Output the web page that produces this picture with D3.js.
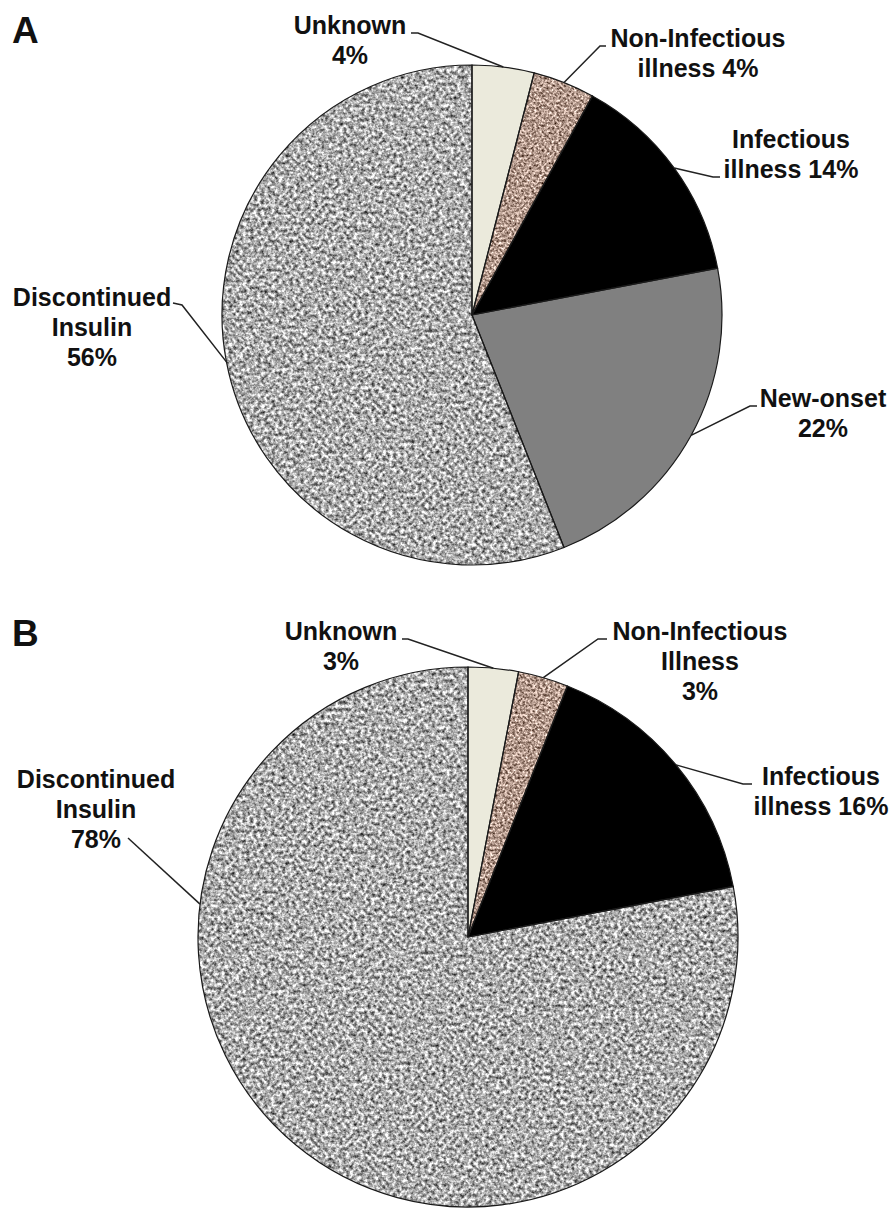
<!DOCTYPE html>
<html lang="en">
<head>
<meta charset="UTF-8">
<title>Precipitating factors</title>
<script src="https://d3js.org/d3.v7.min.js"></script>
<style>
body { margin: 0; background: #fff; }
#chart text { font-family: "Liberation Sans", Arial, sans-serif; font-weight: bold; fill: #111; }
</style>
</head>
<body>
<div id="chart"></div>
<script>
// panel A
var namesA = ["Unknown", "Non-Infectious illness", "Infectious illness", "New-onset", "Discontinued Insulin"];
var valuesA = [4, 4, 14, 22, 56];
// panel B
var namesB = ["Unknown", "Non-Infectious Illness", "Infectious illness", "Discontinued Insulin"];
var valuesB = [3, 3, 16, 78];

var width = 893, height = 1208;

var svg = d3.select("#chart").append("svg")
    .attr("width", width)
    .attr("height", height);

var defs = svg.append("defs");

// speckled textures (granite gray and brown)
function noise(id, freq, octaves, rows) {
    var f = defs.append("filter").attr("id", id)
        .attr("x", 0).attr("y", 0).attr("width", 1).attr("height", 1)
        .attr("color-interpolation-filters", "sRGB");
    f.append("feTurbulence").attr("type", "fractalNoise")
        .attr("baseFrequency", freq).attr("numOctaves", octaves).attr("seed", 7).attr("result", "n");
    f.append("feColorMatrix").attr("in", "n").attr("type", "matrix").attr("values", rows).attr("result", "c");
    f.append("feComposite").attr("in", "c").attr("in2", "SourceGraphic").attr("operator", "in");
}
noise("granite", 0.28, 3, "1.45 0 0 0 -0.05  1.45 0 0 0 -0.05  1.45 0 0 0 -0.05  0 0 0 0 1");
noise("brown", 0.4, 3, "1.3 0 0 0 0.05  1.3 0 0 0 -0.05  1.3 0 0 0 -0.1  0 0 0 0 1");

var fills = {
    "unknown": { color: "#ebeadc" },
    "non-infectious illness": { color: "#b09a8a", filter: "brown" },
    "infectious illness": { color: "#000" },
    "new-onset": { color: "#808080" },
    "discontinued insulin": { color: "#b5b5b5", filter: "granite" }
};

// label layout: text position, words per line, leader start / elbow
var layoutA = [
    { x: 350, y: 34, br: [1, 1], from: [411, 33], elbow: [418, 33] },
    { x: 698, y: 47, br: [1, 2], from: [606, 46], elbow: [600, 46] },
    { x: 791, y: 148, br: [1, 2], from: [720, 177], elbow: [713, 177] },
    { x: 823, y: 407, br: [1, 1], from: [757, 406], elbow: [750, 406] },
    { x: 92, y: 306, br: [1, 1, 1], from: [173, 303], elbow: [182, 305] }
];
var layoutB = [
    { x: 341, y: 640, br: [1, 1], from: [402, 639], elbow: [408, 639] },
    { x: 700, y: 640, br: [1, 1, 1], from: [607, 639], elbow: [598, 639] },
    { x: 821, y: 785, br: [1, 2], from: [752, 784], elbow: [743, 784] },
    { x: 96, y: 788, br: [1, 1, 1], from: [128, 838], elbow: [128, 838], angle: 277 }
];

function drawPie(names, values, layout, cx, cy, r, letter, ly) {
    var pie = d3.pie().sort(null).value(function(d) { return d; });
    var arcs = pie(values);
    var arc = d3.arc().innerRadius(0).outerRadius(r);
    var rim = d3.arc().innerRadius(r).outerRadius(r);

    var g = svg.append("g").attr("transform", "translate(" + cx + "," + cy + ")");

    g.selectAll(".slice")
        .data(arcs)
        .enter().append("path")
        .attr("class", "slice")
        .attr("d", arc)
        .attr("fill", function(d, i) { return fills[names[i].toLowerCase()].color; })
        .attr("filter", function(d, i) {
            var f = fills[names[i].toLowerCase()].filter;
            return f ? "url(#" + f + ")" : null;
        });

    g.selectAll(".edge")
        .data(arcs)
        .enter().append("path")
        .attr("class", "edge")
        .attr("d", arc)
        .attr("fill", "none")
        .attr("stroke", "#1a1a1a")
        .attr("stroke-width", 1.2);

    // leader lines
    arcs.forEach(function(d, i) {
        var L = layout[i];
        var end;
        if (L.angle != null) {
            var a = L.angle * Math.PI / 180;
            end = [Math.sin(a) * r, -Math.cos(a) * r];
        } else {
            end = rim.centroid(d);
        }
        var pts = [L.from, L.elbow, [end[0] + cx, end[1] + cy]];
        svg.append("path")
            .attr("d", d3.line()(pts))
            .attr("fill", "none")
            .attr("stroke", "#222")
            .attr("stroke-width", 1.5);

        // label text: name words + percent
        var words = names[i].split(" ").concat([values[i] + "%"]);
        var t = svg.append("text")
            .attr("text-anchor", "middle")
            .attr("font-size", 25);
        var k = 0;
        L.br.forEach(function(n, j) {
            t.append("tspan")
                .attr("x", L.x)
                .attr("y", L.y + j * 30)
                .text(words.slice(k, k + n).join(" "));
            k += n;
        });
    });

    svg.append("text")
        .attr("x", 12)
        .attr("y", ly)
        .attr("font-size", 37)
        .style("font-weight", 900)
        .text(letter);
}

drawPie(namesA, valuesA, layoutA, 472, 315, 250, "A", 43);
drawPie(namesB, valuesB, layoutB, 468, 937, 270, "B", 646);
</script>
</body>
</html>
